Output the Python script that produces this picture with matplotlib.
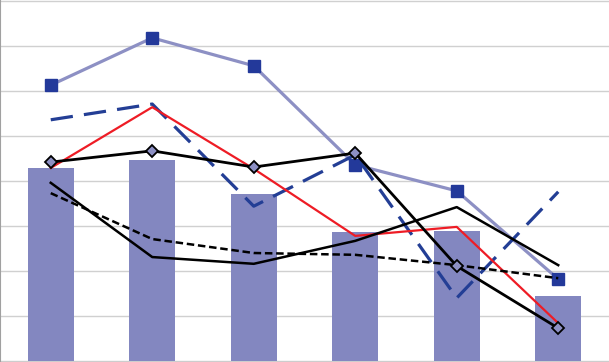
import matplotlib
matplotlib.use("Agg")
from matplotlib import pyplot as plt
import numpy as np

categories = ['1', '2', '3', '4', '5', '6']
bars = [4.29, 4.47, 3.71, 2.87, 2.89, 1.44]
squares = [6.13, 7.18, 6.56, 4.36, 3.78, 1.82]
navy_dash = [5.36, 5.71, 3.44, 4.58, 1.40, 3.76]
red = [4.29, 5.64, 4.27, 2.78, 2.98, 0.84]
diamonds = [4.42, 4.67, 4.31, 4.62, 2.11, 0.73]
black = [3.96, 2.31, 2.16, 2.67, 3.42, 2.13]
black_dash = [3.73, 2.71, 2.40, 2.36, 2.13, 1.84]

x = np.arange(len(categories))

fig = plt.figure(figsize=(6.09, 3.62), dpi=100)
ax = fig.add_axes([0, 0, 1, 1])

ax.bar(x, bars, width=0.45, color='#8387C0', zorder=2)
ax.plot(x, squares, color='#8D90C4', lw=2.3, marker='s', ms=8.5,
        mfc='#23399A', mec='#23399A', zorder=3)
ax.plot(x, navy_dash, color='#233E95', lw=2.3, dashes=(7, 3.5), zorder=3)
ax.plot(x, red, color='#EE1C25', lw=1.6, zorder=4)
ax.plot(x, black, color='black', lw=1.8, zorder=4)
ax.plot(x, black_dash, color='black', lw=1.8, dashes=(3, 1.5), zorder=4)
ax.plot(x, diamonds, color='black', lw=2.0, marker='D', ms=6.5,
        mfc='#8D90C4', mec='black', mew=1.3, zorder=5)

ax.set_xlim(-0.5, 5.5)
ax.set_ylim(-0.022, 8.022)
ax.set_yticks(np.arange(0, 9))
ax.grid(axis='y', color='#D0D0D0', lw=1, zorder=0)
ax.set_xticks([])
ax.tick_params(left=False, labelleft=False)
for s in ['top', 'right']:
    ax.spines[s].set_visible(False)
ax.spines['left'].set_color('#A0A0A0')
ax.spines['bottom'].set_color('#A0A0A0')

fig.savefig('out.png', dpi=100)
